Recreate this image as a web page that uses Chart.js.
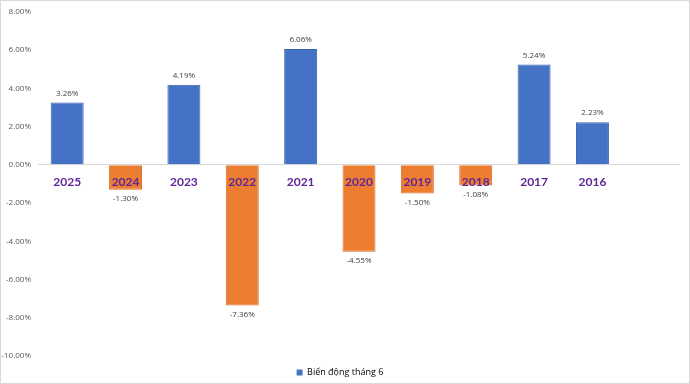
<!DOCTYPE html>
<html>
<head>
<meta charset="utf-8">
<script src="https://cdn.jsdelivr.net/npm/chart.js@4.4.1/dist/chart.umd.min.js"></script>
<style>
  html, body { margin: 0; padding: 0; background: #fff; }
  #wrap { width: 690px; height: 384px; position: relative; }
</style>
</head>
<body>
<div id="wrap"><canvas id="june-chart"></canvas></div>
<script>
// Chart data
const years = ['2025', '2024', '2023', '2022', '2021', '2020', '2019', '2018', '2017', '2016', ''];
const juneChange = [3.26, -1.30, 4.19, -7.36, 6.06, -4.55, -1.50, -1.08, 5.24, 2.23, null];
const seriesName = 'Biến động tháng 6';
const yMin = -10;
const yMax = 8;
const yStep = 2;

const BLUE = '#4472C4';
const ORANGE = '#ED7D31';

const barColors = juneChange.map(v => (v !== null && v < 0) ? ORANGE : BLUE);
const barBorders = juneChange.map(v => (v !== null && v < 0) ? '#D9702A' : '#3A65B0');

// Draws value labels, year labels on the zero line and the outer frame
const labelsPlugin = {
  id: 'labelsPlugin',
  afterDatasetsDraw(chart) {
    const ctx = chart.ctx;
    const meta = chart.getDatasetMeta(0);
    const y0 = chart.scales.y.getPixelForValue(0);
    ctx.save();
    meta.data.forEach((bar, i) => {
      const v = juneChange[i];
      if (v === null) return;
      ctx.font = '8px "Open Sans", sans-serif';
      ctx.fillStyle = '#404040';
      ctx.textAlign = 'center';
      ctx.textBaseline = 'middle';
      const ly = v >= 0 ? bar.y - 9 : bar.y + 9;
      ctx.fillText(v.toFixed(2) + '%', bar.x, ly);

      ctx.font = 'bold 12px Lato, sans-serif';
      ctx.fillStyle = '#5E2696';
      ctx.fillText(years[i], bar.x, y0 + 17);
    });
    ctx.strokeStyle = '#D9D9D9';
    ctx.lineWidth = 1;
    ctx.strokeRect(0.5, 0.5, chart.width - 1, chart.height - 1);
    ctx.restore();
  }
};

const ctx = document.getElementById('june-chart').getContext('2d');
new Chart(ctx, {
  type: 'bar',
  data: {
    labels: years,
    datasets: [{
      label: seriesName,
      data: juneChange,
      backgroundColor: barColors,
      borderColor: barBorders,
      borderWidth: 1,
      categoryPercentage: 1,
      barPercentage: 0.565
    }]
  },
  options: {
    responsive: true,
    maintainAspectRatio: false,
    animation: false,
    layout: {
      padding: { top: 6, right: 10, bottom: -3, left: 0 }
    },
    plugins: {
      tooltip: { enabled: false },
      legend: {
        position: 'bottom',
        labels: {
          boxWidth: 6,
          boxHeight: 6,
          padding: 12,
          color: '#595959',
          font: { family: '"Open Sans", sans-serif', size: 9 },
          generateLabels: function(chart) {
            return [{
              text: seriesName,
              fillStyle: BLUE,
              strokeStyle: BLUE,
              lineWidth: 0,
              datasetIndex: 0
            }];
          }
        }
      }
    },
    scales: {
      x: {
        display: false
      },
      y: {
        min: yMin,
        max: yMax,
        border: { display: false },
        grid: {
          drawTicks: false,
          color: function(c) {
            return c.tick && c.tick.value === 0 ? '#D9D9D9' : 'rgba(0,0,0,0)';
          }
        },
        ticks: {
          stepSize: yStep,
          padding: 7,
          color: '#595959',
          font: { family: '"Open Sans", sans-serif', size: 8 },
          callback: function(value) {
            return value.toFixed(2) + '%';
          }
        },
        afterFit: function(scale) {
          scale.width = 38;
        }
      }
    }
  },
  plugins: [labelsPlugin]
});
</script>
</body>
</html>
